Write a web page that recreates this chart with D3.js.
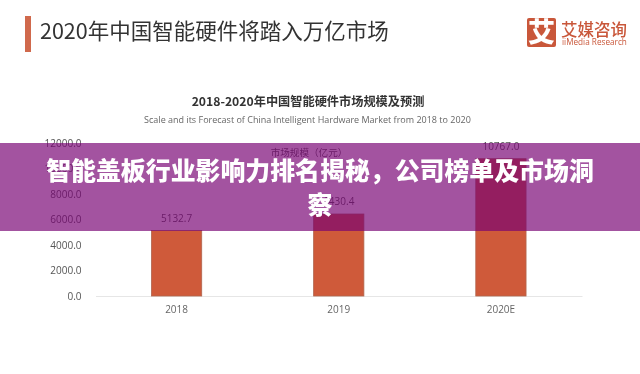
<!DOCTYPE html>
<html>
<head>
<meta charset="utf-8">
<script src="https://cdn.jsdelivr.net/npm/d3@7"></script>
<style>
  html, body { margin: 0; padding: 0; background: #fff; }
  svg { display: block; }
  text { font-family: "Noto Sans CJK SC", "Noto Sans", sans-serif; }
  .ejes text { font-family: "Open Sans", "Noto Sans", sans-serif; }
</style>
</head>
<body>
<div id="graf"></div>
<script>
// datos
anios = ['2018', '2019', '2020E']
valores = [5132.7, 6430.4, 10767.0]
ticksY = [0, 2000, 4000, 6000, 8000, 10000, 12000]

titulo = '2020年中国智能硬件将踏入万亿市场'
subtitulo = '2018-2020年中国智能硬件市场规模及预测'
subtituloEn = 'Scale and its Forecast of China Intelligent Hardware Market from 2018 to 2020'
leyenda = '市场规模（亿元）'
banner = ['智能盖板行业影响力排名揭秘，公司榜单及市场洞', '察']

ancho = 640
alto = 374
margins = { top: 143, left: 95.5, right: 58, bottom: 78 }

svg = d3.select('#graf').append('svg')
        .attr('width', ancho)
        .attr('height', alto)

// contenido borroso de fondo (captura de baja calidad)
fondo = svg.append('g').style('filter', 'blur(0.35px)')

// cabecera
fondo.append('rect')
     .attr('x', 25).attr('y', 16)
     .attr('width', 6).attr('height', 36)
     .attr('fill', '#d0694c')

fondo.append('text')
     .attr('x', 40).attr('y', 39)
     .attr('font-size', 21.5)
     .attr('fill', '#333')
     .text(titulo)

// logo
fondo.append('rect')
     .attr('x', 527).attr('y', 18)
     .attr('width', 29).attr('height', 29)
     .attr('rx', 2)
     .attr('fill', '#c9573a')
fondo.append('text')
     .attr('x', 541.5).attr('y', 42)
     .attr('text-anchor', 'middle')
     .attr('font-size', 27)
     .attr('font-weight', 900)
     .attr('fill', '#fff')
     .text('艾')
fondo.append('text')
     .attr('x', 561).attr('y', 35.5)
     .attr('font-size', 16.5)
     .attr('font-weight', 500)
     .attr('fill', '#c9573a')
     .text('艾媒咨询')
fondo.append('text')
     .attr('x', 562).attr('y', 45)
     .attr('font-size', 8.2)
     .attr('fill', '#c9573a')
     .style('font-family', '"Open Sans", sans-serif')
     .text('iiMedia Research')

// titulos del grafico
fondo.append('text')
     .attr('x', 308).attr('y', 105.5)
     .attr('text-anchor', 'middle')
     .attr('font-size', 12.2)
     .attr('font-weight', 700)
     .attr('fill', '#333')
     .text(subtitulo)
fondo.append('text')
     .attr('x', 307.5).attr('y', 123)
     .attr('text-anchor', 'middle')
     .attr('font-size', 9)
     .attr('fill', '#666')
     .style('font-family', '"Open Sans", sans-serif')
     .text(subtituloEn)

// escaladores
x = d3.scaleBand()
      .domain(anios)
      .range([margins.left, ancho - margins.right])
      .paddingInner(0.69)
      .paddingOuter(0.345)
y = d3.scaleLinear()
      .domain([0, 12000])
      .range([alto - margins.bottom, margins.top])

// ejes
xAxisCall = d3.axisBottom(x).tickSize(0).tickPadding(10)
xAxis = fondo.append('g')
             .attr('class', 'ejes')
             .attr('transform', `translate(0, ${alto - margins.bottom})`)
             .call(xAxisCall)
xAxis.select('.domain').attr('stroke', '#e6e6e6')
xAxis.selectAll('text').attr('font-size', 10).attr('fill', '#666')

yAxisCall = d3.axisLeft(y).tickValues(ticksY).tickFormat(d => d.toFixed(1)).tickSize(0).tickPadding(14)
yAxis = fondo.append('g')
             .attr('class', 'ejes')
             .attr('transform', `translate(${margins.left}, 0)`)
             .call(yAxisCall)
yAxis.select('.domain').remove()
yAxis.selectAll('text').attr('font-size', 10).attr('fill', '#555')

// barras
datos = anios.map((a, i) => ({ anio: a, valor: valores[i] }))
fondo.selectAll('.barra')
     .data(datos)
     .enter().append('rect')
     .attr('class', 'barra')
     .attr('x', d => x(d.anio))
     .attr('y', d => y(d.valor))
     .attr('width', x.bandwidth())
     .attr('height', d => y(0) - y(d.valor))
     .attr('fill', '#cf5a3a')
     .attr('stroke', '#b0664f')
     .attr('stroke-width', 0.8)

// etiquetas de valor
fondo.selectAll('.valor')
     .data(datos)
     .enter().append('text')
     .attr('class', 'valor')
     .attr('x', d => x(d.anio) + x.bandwidth() / 2)
     .attr('y', d => y(d.valor) - 9)
     .attr('text-anchor', 'middle')
     .attr('font-size', 10)
     .attr('fill', '#555')
     .style('font-family', '"Open Sans", sans-serif')
     .text(d => d.valor.toFixed(1))

// leyenda
fondo.append('text')
     .attr('x', 309).attr('y', 156)
     .attr('text-anchor', 'middle')
     .attr('font-size', 9.6)
     .attr('fill', '#555')
     .text(leyenda)

// franja superpuesta
svg.append('rect')
   .attr('x', 0).attr('y', 143)
   .attr('width', ancho).attr('height', 88)
   .attr('fill', 'rgb(120, 2, 115)')
   .attr('fill-opacity', 0.68)

svg.selectAll('.banner')
   .data(banner)
   .enter().append('text')
   .attr('class', 'banner')
   .attr('x', 320)
   .attr('y', (d, i) => 180 + i * 34)
   .attr('text-anchor', 'middle')
   .attr('font-size', 24.9)
   .attr('font-weight', 900)
   .attr('fill', '#fff')
   .text(d => d)
</script>
</body>
</html>
